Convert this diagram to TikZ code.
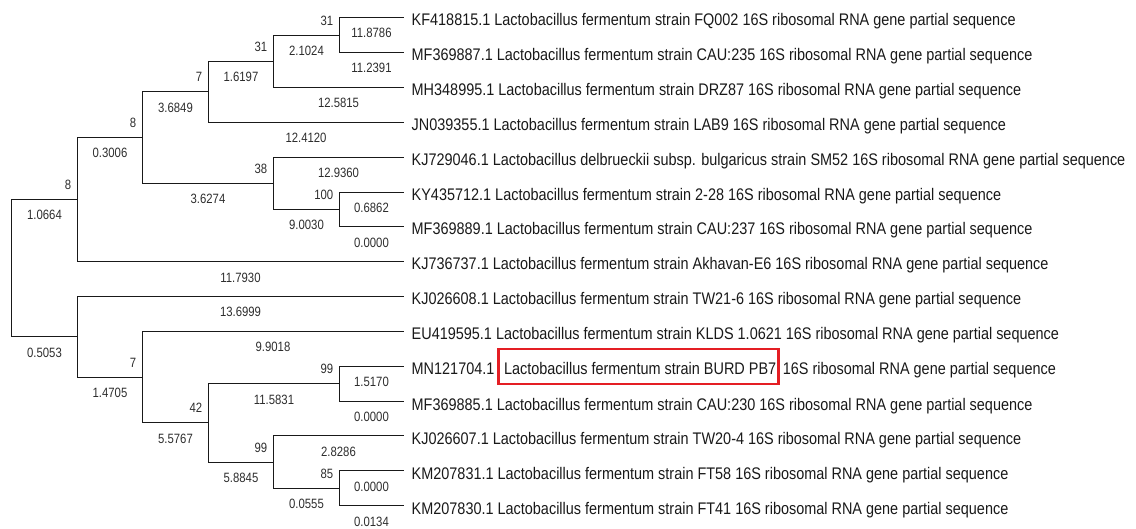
\documentclass[tikz,border=0pt]{standalone}
\usepackage{fontspec}
\newfontfamily\leaffont[FakeStretch=0.86]{Liberation Sans}
\newfontfamily\numfont[FakeStretch=0.84]{Liberation Sans}
\definecolor{boxred}{RGB}{228,30,36}
\definecolor{ink}{RGB}{25,25,25}
\definecolor{numink}{RGB}{45,45,45}
\begin{document}
\begin{tikzpicture}[x=1pt,y=-1pt,
  br/.style={line width=1.2pt, draw=ink},
  leaf/.style={anchor=west, inner xsep=8pt, inner ysep=0pt, text height=20pt, text depth=3pt,
    font=\leaffont\fontsize{16.8}{20}\selectfont, text=ink},
  blen/.style={font=\numfont\fontsize{13.5}{15}\selectfont, inner sep=0pt, text=numink},
  boot/.style={blen, anchor=east},
  hilite/.style={draw=boxred, line width=2.8pt, inner xsep=2.5pt, inner ysep=6pt,
    text height=20pt, text depth=3pt, font=\leaffont\fontsize{16.8}{20}\selectfont, text=ink}
]
\useasboundingbox (0,0) rectangle (1136,529);
% levels
\def\xa{11.5}\def\xb{77.5}\def\xc{142.5}\def\xd{208.5}\def\xe{273.5}\def\xf{339.5}\def\xt{403.5}
% internal nodes
\coordinate (R) at (\xa,268.5);
\coordinate (A) at (\xb,199.5);
\coordinate (B) at (\xb,336.5);
\coordinate (C) at (\xc,137.5);
\coordinate (D) at (\xd,91.5);
\coordinate (E) at (\xe,183.5);
\coordinate (F) at (\xe,61.5);
\coordinate (G) at (\xf,35.5);
\coordinate (H) at (\xf,209.5);
\coordinate (I) at (\xc,377.5);
\coordinate (J) at (\xd,422.5);
\coordinate (K) at (\xf,383.5);
\coordinate (L) at (\xe,462.5);
\coordinate (M) at (\xf,488.5);
% leaves
\node[leaf] (L1) at (\xt,17.5) {KF418815.1 Lactobacillus fermentum strain FQ002 16S ribosomal RNA gene partial sequence};
\node[leaf] (L2) at (\xt,52.5) {MF369887.1 Lactobacillus fermentum strain CAU:235 16S ribosomal RNA gene partial sequence};
\node[leaf] (L3) at (\xt,87.5) {MH348995.1 Lactobacillus fermentum strain DRZ87 16S ribosomal RNA gene partial sequence};
\node[leaf] (L4) at (\xt,122.5) {JN039355.1 Lactobacillus fermentum strain LAB9 16S ribosomal RNA gene partial sequence};
\node[leaf] (L5) at (\xt,157.5) {KJ729046.1 Lactobacillus delbrueckii subsp. bulgaricus strain SM52 16S ribosomal RNA gene partial sequence};
\node[leaf] (L6) at (\xt,192.5) {KY435712.1 Lactobacillus fermentum strain 2-28 16S ribosomal RNA gene partial sequence};
\node[leaf] (L7) at (\xt,226.5) {MF369889.1 Lactobacillus fermentum strain CAU:237 16S ribosomal RNA gene partial sequence};
\node[leaf] (L8) at (\xt,261.5) {KJ736737.1 Lactobacillus fermentum strain Akhavan-E6 16S ribosomal RNA gene partial sequence};
\node[leaf] (L9) at (\xt,296.5) {KJ026608.1 Lactobacillus fermentum strain TW21-6 16S ribosomal RNA gene partial sequence};
\node[leaf] (L10) at (\xt,331.5) {EU419595.1 Lactobacillus fermentum strain KLDS 1.0621 16S ribosomal RNA gene partial sequence};
\node[leaf] (L11) at (\xt,366.5) {MN121704.1};
\node[hilite, anchor=base west] (BX) at ([xshift=-5.5pt]L11.base east) {\hspace{3pt}Lactobacillus fermentum strain BURD PB7};
\node[leaf, anchor=base west, inner xsep=0pt] (L11r) at ([xshift=2.5pt]BX.base east) {16S ribosomal RNA gene partial sequence};
\node[leaf] (L12) at (\xt,401.5) {MF369885.1 Lactobacillus fermentum strain CAU:230 16S ribosomal RNA gene partial sequence};
\node[leaf] (L13) at (\xt,435.5) {KJ026607.1 Lactobacillus fermentum strain TW20-4 16S ribosomal RNA gene partial sequence};
\node[leaf] (L14) at (\xt,470.5) {KM207831.1 Lactobacillus fermentum strain FT58 16S ribosomal RNA gene partial sequence};
\node[leaf] (L15) at (\xt,505.5) {KM207830.1 Lactobacillus fermentum strain FT41 16S ribosomal RNA gene partial sequence};
% branches
\draw[br] (A) -| (R) |- (B);
\draw[br] (C) -| (A) |- (L8.west);
\draw[br] (D) -| (C) |- (E);
\draw[br] (F) -| (D) |- (L4.west);
\draw[br] (G) -| (F) |- (L3.west);
\draw[br] (L1.west) -| (G) |- (L2.west);
\draw[br] (L5.west) -| (E) |- (H);
\draw[br] (L6.west) -| (H) |- (L7.west);
\draw[br] (L9.west) -| (B) |- (I);
\draw[br] (L10.west) -| (I) |- (J);
\draw[br] (K) -| (J) |- (L);
\draw[br] (L11.west) -| (K) |- (L12.west);
\draw[br] (L13.west) -| (L) |- (M);
\draw[br] (L14.west) -| (M) |- (L15.west);
% branch lengths
\node[blen] (bA) at ({(\xa+\xb)/2},215.35) {1.0664};
\node[blen] (bB) at ({(\xa+\xb)/2},352.65) {0.5053};
\node[blen] (bC) at ({(\xb+\xc)/2},153.2) {0.3006};
\node[blen] (b8) at ({(\xb+\xt)/2},277.5) {11.7930};
\node[blen] (bD) at ({(\xc+\xd)/2},107.4) {3.6849};
\node[blen] (bE) at ({(\xc+\xe)/2},198.98) {3.6274};
\node[blen] (bF) at ({(\xd+\xe)/2},76.9) {1.6197};
\node[blen] (b4) at ({(\xd+\xt)/2},137.9) {12.4120};
\node[blen] (bG) at ({(\xe+\xf)/2},50.75) {2.1024};
\node[blen] (b3) at ({(\xe+\xt)/2},103.1) {12.5815};
\node[blen] (b1) at ({(\xf+\xt)/2},33.3) {11.8786};
\node[blen] (b2) at ({(\xf+\xt)/2},68.2) {11.2391};
\node[blen] (b5) at ({(\xe+\xt)/2},172.8) {12.9360};
\node[blen] (bH) at ({(\xe+\xf)/2},225.15) {9.0030};
\node[blen] (b6) at ({(\xf+\xt)/2},207.7) {0.6862};
\node[blen] (b7) at ({(\xf+\xt)/2},242.6) {0.0000};
\node[blen] (b9) at ({(\xb+\xt)/2},312.3) {13.6999};
\node[blen] (bI) at ({(\xb+\xc)/2},393) {1.4705};
\node[blen] (b10) at ({(\xc+\xt)/2},347.2) {9.9018};
\node[blen] (bJ) at ({(\xc+\xd)/2},438.8) {5.5767};
\node[blen] (bK) at ({(\xd+\xf)/2},399.55) {11.5831};
\node[blen] (b11) at ({(\xf+\xt)/2},382.1) {1.5170};
\node[blen] (b12) at ({(\xf+\xt)/2},417.0) {0.0000};
\node[blen] (bL) at ({(\xd+\xe)/2},478) {5.8845};
\node[blen] (b13) at ({(\xe+\xt)/2},451.9) {2.8286};
\node[blen] (bM) at ({(\xe+\xf)/2},504.15) {0.0555};
\node[blen] (b14) at ({(\xf+\xt)/2},486.7) {0.0000};
\node[blen] (b15) at ({(\xf+\xt)/2},521.6) {0.0134};
% bootstrap values
\node[boot] (sA) at ([xshift=-6pt,yshift=14.5pt]A) {8};
\node[boot] (sC) at ([xshift=-6pt,yshift=14.5pt]C) {8};
\node[boot] (sD) at ([xshift=-6pt,yshift=14.5pt]D) {7};
\node[boot] (sF) at ([xshift=-6pt,yshift=14.5pt]F) {31};
\node[boot] (sG) at ([xshift=-6pt,yshift=14.5pt]G) {31};
\node[boot] (sE) at ([xshift=-6pt,yshift=14.5pt]E) {38};
\node[boot] (sH) at ([xshift=-6pt,yshift=14.5pt]H) {100};
\node[boot] (sI) at ([xshift=-6pt,yshift=14.5pt]I) {7};
\node[boot] (sJ) at ([xshift=-6pt,yshift=14.5pt]J) {42};
\node[boot] (sK) at ([xshift=-6pt,yshift=14.5pt]K) {99};
\node[boot] (sL) at ([xshift=-6pt,yshift=14.5pt]L) {99};
\node[boot] (sM) at ([xshift=-6pt,yshift=14.5pt]M) {85};
\end{tikzpicture}
\end{document}
